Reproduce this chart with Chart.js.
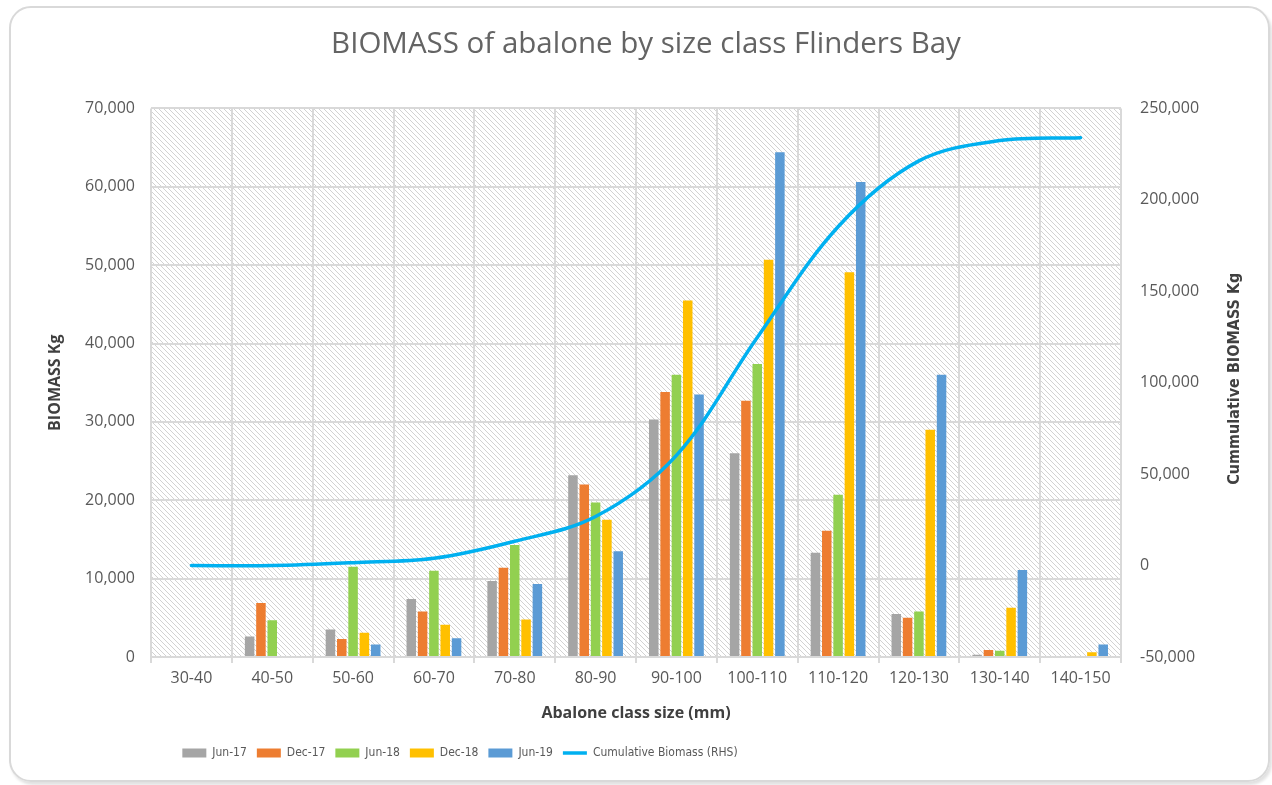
<!DOCTYPE html>
<html>
<head>
<meta charset="utf-8">
<script src="https://cdn.jsdelivr.net/npm/chart.js@4.4.1/dist/chart.umd.min.js"></script>
<style>
  body { margin: 0; background: #fff; }
  #frame {
    position: absolute; left: 9px; top: 6px; width: 1257px; height: 772px;
    border: 2px solid #d9d9d9; border-radius: 22px;
    box-shadow: 2px 3px 3px rgba(0, 0, 0, 0.12);
  }
  #c { position: absolute; left: 0; top: 0; }
</style>
</head>
<body>
<div id="frame"></div>
<canvas id="c" width="1272" height="785"></canvas>
<script>
// Size classes (x axis)
const sizeClasses = ['30-40', '40-50', '50-60', '60-70', '70-80', '80-90', '90-100',
  '100-110', '110-120', '120-130', '130-140', '140-150'];

// Biomass (kg) per survey
const jun17 = [0, 2600, 3500, 7400, 9700, 23200, 30300, 26000, 13300, 5500, 300, 0];
const dec17 = [0, 6900, 2300, 5800, 11400, 22000, 33800, 32700, 16100, 5000, 900, 0];
const jun18 = [0, 4700, 11500, 11000, 14300, 19700, 36000, 37400, 20700, 5800, 800, 0];
const dec18 = [0, 0, 3100, 4100, 4800, 17500, 45500, 50700, 49100, 29000, 6300, 600];
const jun19 = [0, 0, 1600, 2400, 9300, 13500, 33500, 64400, 60600, 36000, 11100, 1600];

// Cumulative biomass (right hand axis)
const cumulative = [0, 0, 1600, 4000, 13300, 26800, 60300, 124700, 185300, 221300, 232400, 234000];

const textGray = '#595959';
const titleGray = '#404040';
const gridGray = '#d9d9d9';
const narrow = '"Liberation Sans Narrow", "DejaVu Sans Condensed", sans-serif';
const open = '"Open Sans", sans-serif';

// diagonal hatch for the plot area
function makeHatch() {
  const s = 5;
  const tile = document.createElement('canvas');
  tile.width = s; tile.height = s;
  const t = tile.getContext('2d');
  t.fillStyle = '#ffffff';
  t.fillRect(0, 0, s, s);
  t.strokeStyle = '#d2d2d2';
  t.lineWidth = 1;
  t.beginPath();
  t.moveTo(0, 0); t.lineTo(s, s);
  t.moveTo(-1, s - 1); t.lineTo(1, s + 1);
  t.moveTo(s - 1, -1); t.lineTo(s + 1, 1);
  t.stroke();
  return tile;
}

const hatchPlugin = {
  id: 'hatch',
  beforeDraw(chart) {
    const { ctx, chartArea: a } = chart;
    ctx.save();
    ctx.fillStyle = ctx.createPattern(makeHatch(), 'repeat');
    ctx.fillRect(a.left, a.top, a.right - a.left, a.bottom - a.top);
    ctx.restore();
  }
};

// the legend in the original sits left of centre, the title a bit right
const boxShift = {
  id: 'boxShift',
  afterLayout(chart) {
    const lg = chart.legend;
    const dx = 460 - (lg.left + lg.right) / 2;
    lg.left += dx;
    lg.right += dx;
    const tt = chart.titleBlock;
    if (tt) { tt.left += 10; tt.right += 10; }
  }
};

// right axis title reads bottom-to-top like the left one
const rightTitle = {
  id: 'rightTitle',
  afterDraw(chart) {
    const ctx = chart.ctx;
    const a = chart.chartArea;
    ctx.save();
    ctx.translate(1235, (a.top + a.bottom) / 2 - 4);
    ctx.rotate(-Math.PI / 2);
    ctx.textAlign = 'center';
    ctx.textBaseline = 'middle';
    ctx.fillStyle = titleGray;
    ctx.font = 'bold 16px ' + narrow;
    ctx.fillText('Cummulative BIOMASS Kg', 0, 0);
    ctx.restore();
  }
};

function barSet(label, data, color) {
  return {
    type: 'bar', label, data, backgroundColor: color, borderWidth: 0,
    yAxisID: 'y', order: 1, pointStyle: 'rect',
    categoryPercentage: 0.7, barPercentage: 0.84
  };
}

new Chart(document.getElementById('c'), {
  data: {
    labels: sizeClasses,
    datasets: [
      barSet('Jun-17', jun17, '#a5a5a5'),
      barSet('Dec-17', dec17, '#ed7d31'),
      barSet('Jun-18', jun18, '#92d050'),
      barSet('Dec-18', dec18, '#ffc000'),
      barSet('Jun-19', jun19, '#5b9bd5'),
      {
        type: 'line', label: 'Cumulative Biomass (RHS)', data: cumulative,
        borderColor: '#00b0f0', backgroundColor: '#00b0f0', borderWidth: 3.5,
        pointRadius: 0, tension: 0.35, yAxisID: 'y2', order: 0,
        pointStyle: 'line', borderCapStyle: 'round'
      }
    ]
  },
  options: {
    responsive: false,
    animation: false,
    layout: { padding: { left: 20, right: 20, top: 10, bottom: 16 } },
    plugins: {
      tooltip: { enabled: false },
      title: {
        display: true,
        text: 'BIOMASS of abalone by size class Flinders Bay',
        color: '#646464',
        font: { family: open, size: 29.5, weight: 'normal' },
        padding: { top: 17, bottom: 46 }
      },
      legend: {
        position: 'bottom',
        labels: {
          usePointStyle: true,
          pointStyleWidth: 24,
          boxHeight: 9,
          color: textGray,
          padding: 10,
          font: { family: narrow, size: 12 },
          sort: (a, b) => a.datasetIndex - b.datasetIndex
        }
      }
    },
    scales: {
      x: {
        grid: { color: gridGray, lineWidth: 2, tickLength: 6, tickColor: gridGray },
        border: { color: gridGray, width: 2 },
        ticks: { color: textGray, padding: 6, font: { family: open, size: 16 } },
        title: {
          display: true, text: 'Abalone class size (mm)', color: titleGray,
          font: { family: open, size: 16, weight: 'bold' },
          padding: { top: 4, bottom: 14 }
        },
        afterFit(s) { s.height = 80; }
      },
      y: {
        position: 'left',
        min: 0, max: 70000,
        grid: { color: gridGray, lineWidth: 2, drawTicks: false },
        border: { display: false },
        ticks: {
          stepSize: 10000, color: textGray, padding: 16,
          font: { family: open, size: 16 },
          callback: v => v.toLocaleString('en-US')
        },
        title: {
          display: true, text: 'BIOMASS Kg', color: titleGray,
          font: { family: open, size: 16, weight: 'bold' },
          padding: { top: 26, bottom: 0 }
        },
        afterFit(s) { s.width = 131; }
      },
      y2: {
        position: 'right',
        min: -50000, max: 250000,
        grid: { drawOnChartArea: false, drawTicks: false },
        border: { display: false },
        ticks: {
          stepSize: 50000, color: textGray, padding: 19,
          font: { family: open, size: 16 },
          callback: v => v.toLocaleString('en-US')
        },
        afterFit(s) { s.width = 131; }
      }
    }
  },
  plugins: [hatchPlugin, boxShift, rightTitle]
});
</script>
</body>
</html>
